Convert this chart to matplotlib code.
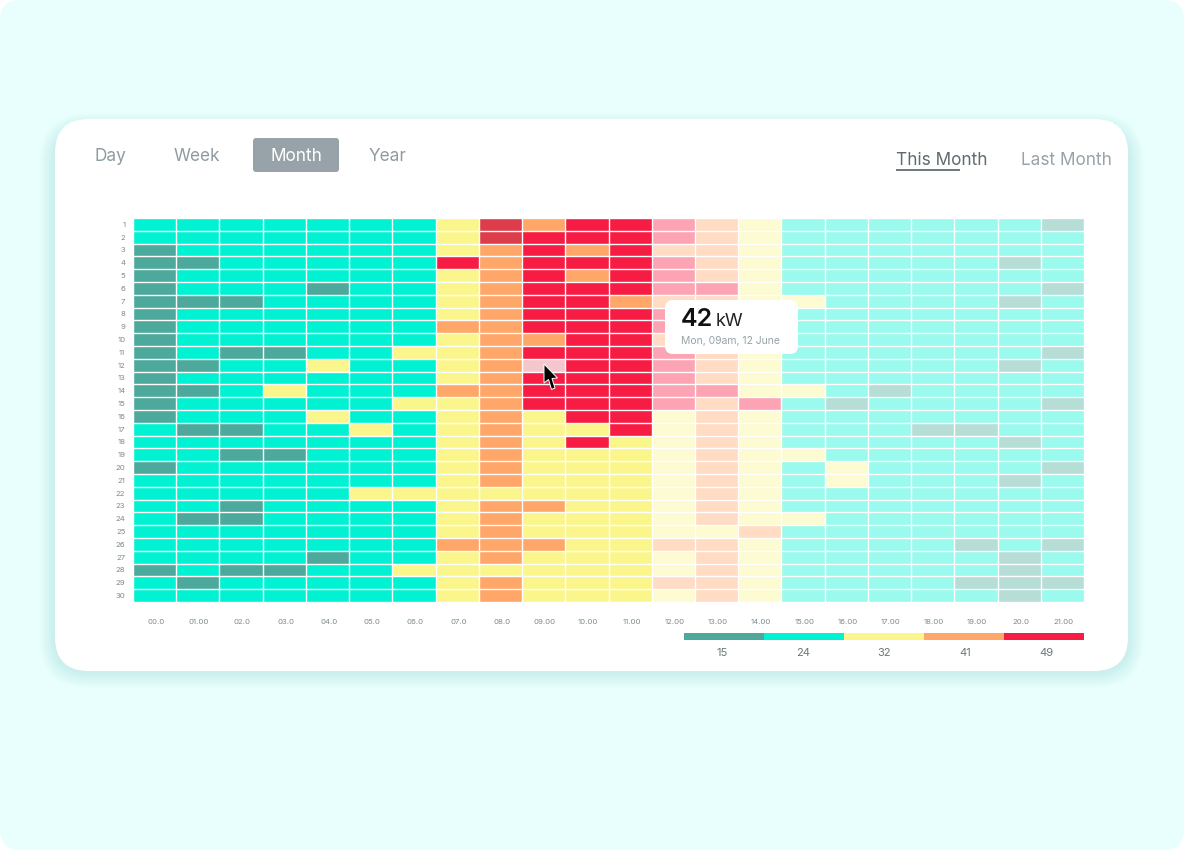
import matplotlib
matplotlib.use("Agg")
import matplotlib.pyplot as plt
import numpy as np
from matplotlib.colors import ListedColormap, BoundaryNorm, to_rgb
from matplotlib.patches import FancyBboxPatch, Polygon, Rectangle

plt.rcParams['font.family'] = ['Inter', 'DejaVu Sans']

# ---------- data ----------
hours = ['00.0','01.00','02.0','03.0','04.0','05.0','06.0','07.0','08.0','09.00','10.00',
         '11.00','12.00','13.00','14.00','15.00','16.00','17.00','18.00','19.00','20.0','21.00']
days = [str(d) for d in range(1, 31)]
legend_values = [15, 24, 32, 41, 49]
legend_colors = ['#4CA99B', '#00F2D2', '#FBF68C', '#FFA768', '#F71C43']
kw = [
 [24,24,24,24,24,24,24,32,49,41,49,49,49,41,32,24,24,24,24,24,24,15],
 [24,24,24,24,24,24,24,32,49,49,49,49,49,41,32,24,24,24,24,24,24,24],
 [15,24,24,24,24,24,24,32,41,49,41,49,41,41,32,24,24,24,24,24,24,24],
 [15,15,24,24,24,24,24,49,41,49,49,49,49,41,32,24,24,24,24,24,15,24],
 [15,24,24,24,24,24,24,32,41,49,41,49,49,41,32,24,24,24,24,24,24,24],
 [15,24,24,24,15,24,24,32,41,49,49,49,49,49,32,24,24,24,24,24,24,15],
 [15,15,15,24,24,24,24,32,41,49,49,41,41,41,32,32,24,24,24,24,15,24],
 [15,24,24,24,24,24,24,32,41,49,49,49,49,41,32,24,24,24,24,24,24,24],
 [15,24,24,24,24,24,24,41,41,49,49,49,49,41,32,24,24,24,24,24,24,24],
 [15,24,24,24,24,24,24,32,41,41,49,49,41,41,32,24,24,24,24,24,24,24],
 [15,24,15,15,24,24,32,32,41,49,49,49,49,41,32,24,24,24,24,24,24,15],
 [15,15,24,24,32,24,24,32,41,49,49,49,49,41,32,24,24,24,24,24,15,24],
 [15,24,24,24,24,24,24,32,41,49,49,49,49,41,32,24,24,24,24,24,24,24],
 [15,15,24,32,24,24,24,41,41,49,49,49,49,49,32,32,24,15,24,24,24,24],
 [15,24,24,24,24,24,32,32,41,49,49,49,49,41,49,24,15,24,24,24,24,15],
 [15,24,24,24,32,24,24,32,41,32,49,49,32,41,32,24,24,24,24,24,24,24],
 [24,15,15,24,24,32,24,32,41,32,32,49,32,41,32,24,24,24,15,15,24,24],
 [24,24,24,24,24,24,24,32,41,32,49,32,32,41,32,24,24,24,24,24,15,24],
 [24,24,15,15,24,24,24,32,41,32,32,32,32,41,32,32,24,24,24,24,24,24],
 [15,24,24,24,24,24,24,32,41,32,32,32,32,41,32,24,32,24,24,24,24,15],
 [24,24,24,24,24,24,24,32,41,32,32,32,32,41,32,24,32,24,24,24,15,24],
 [24,24,24,24,24,32,32,32,32,32,32,32,32,41,32,24,24,24,24,24,24,24],
 [24,24,15,24,24,24,24,32,41,41,32,32,32,41,32,24,24,24,24,24,24,24],
 [24,15,15,24,24,24,24,32,41,32,32,32,32,41,32,32,24,24,24,24,24,24],
 [24,24,24,24,24,24,24,32,41,32,32,32,32,32,41,24,24,24,24,24,24,24],
 [24,24,24,24,24,24,24,41,41,41,32,32,41,41,32,24,24,24,24,15,24,15],
 [24,24,24,24,15,24,24,32,41,32,32,32,32,41,32,24,24,24,24,24,15,24],
 [15,24,15,15,24,24,32,32,32,32,32,32,32,41,32,24,24,24,24,24,15,24],
 [24,15,24,24,24,24,24,32,41,32,32,32,41,41,32,24,24,24,24,15,15,15],
 [24,24,24,24,24,24,24,32,41,32,32,32,32,41,32,24,24,24,24,24,15,24],
]
faded_from_hour = 12           # hours from this column onward are drawn faded
fade = 0.4
dark_cells = [(0, 8), (1, 8)]  # (day index, hour index)
hover_cell = (11, 9)
tooltip_value = '42'
tooltip_unit = 'kW'
tooltip_note = 'Mon, 09am, 12 June'
tabs = ['Day', 'Week', 'Month', 'Year']

# ---------- figure ----------
W, H = 1184, 850
fig = plt.figure(figsize=(W / 100, H / 100), dpi=100, facecolor='white')

def px_axes(x0, y0, x1, y1, z):
    return fig.add_axes([x0 / W, 1 - y1 / H, (x1 - x0) / W, (y1 - y0) / H], zorder=z)

bg = px_axes(0, 0, W, H, 0)
bg.set_xlim(0, W); bg.set_ylim(H, 0); bg.axis('off')

def rbox(a, x0, y0, x1, y1, r, **kw_):
    p = FancyBboxPatch((x0 + r, y0 + r), x1 - x0 - 2 * r, y1 - y0 - 2 * r,
                       boxstyle=f'round,pad={r},rounding_size={r}', **kw_)
    a.add_patch(p)
    return p

rbox(bg, 0, 0, W, H, 20, fc='#E8FFFD', ec='none')
for i in range(16, 0, -1):
    rbox(bg, 55 - i, 119 - i + 10, 1128 + i, 671 + i + 1, 34 + i, fc='#4F8F8A', ec='none', alpha=0.007)
rbox(bg, 55, 119, 1128, 671, 34, fc='white', ec='none')

# tabs
tab_x = [110, 197, 296, 388]
rbox(bg, 253, 138, 339, 172, 3, fc='#97A3A8', ec='none')
for name, x in zip(tabs, tab_x):
    bg.text(x, 156, name, ha='center', va='center', fontsize=12.4,
            color='white' if name == 'Month' else '#8E9CA1')
bg.text(942, 160, 'This Month', ha='center', va='center', fontsize=12.4, color='#5E6B70')
bg.text(1066, 160, 'Last Month', ha='center', va='center', fontsize=12.4, color='#97A3A8')
bg.add_patch(Rectangle((896, 169), 64, 2, fc='#6E7B80', ec='none'))

# heatmap
levels = [10, 20, 28, 36, 45, 55]
cmap = ListedColormap(legend_colors)
faded_cmap = ListedColormap([tuple(fade * c + (1 - fade) for c in to_rgb(col)) for col in legend_colors])
norm = BoundaryNorm(levels, cmap.N)
Z = np.array(kw, dtype=float)
ax = px_axes(133, 218, 1084, 602, 1)
xe = np.arange(len(hours) + 1)
ye = np.arange(len(days) + 1)
f = faded_from_hour
ax.pcolormesh(xe[:f + 1], ye, Z[:, :f], cmap=cmap, norm=norm)
ax.pcolormesh(xe[f:], ye, Z[:, f:], cmap=faded_cmap, norm=norm)
for d, h in dark_cells:
    ax.add_patch(Rectangle((h, d), 1, 1, fc='#DD3D4B', ec='none'))
d, h = hover_cell
ax.add_patch(Rectangle((h, d), 1, 1, fc='#F5C7CD', ec='none'))
ax.hlines(ye, 0, len(hours), color='white', linewidth=1.0, zorder=5)
ax.vlines(xe, 0, len(days), color='white', linewidth=1.0, zorder=5)
ax.set_xlim(0, len(hours)); ax.set_ylim(len(days), 0)
ax.set_xticks(np.arange(len(hours)) + 0.53, hours)
ax.set_yticks(np.arange(len(days)) + 0.5, days)
ax.tick_params(length=0, labelsize=5.6, labelcolor='#7D8A8E')
ax.tick_params(axis='x', pad=12)
ax.tick_params(axis='y', pad=5.5)
for s in ax.spines.values():
    s.set_visible(False)

# legend bar
lg = px_axes(684, 633, 1084, 640, 1)
lg.pcolormesh(np.arange(len(legend_values) + 1), [0, 1], np.array([legend_values]), cmap=cmap, norm=norm)
lg.set_xlim(0, len(legend_values)); lg.set_ylim(0, 1)
lg.set_yticks([])
lg.set_xticks(np.arange(len(legend_values)) * 1.0125 + 0.475, [str(v) for v in legend_values])
lg.tick_params(length=0, labelsize=8, labelcolor='#6A777B', pad=6)
for s in lg.spines.values():
    s.set_visible(False)

# tooltip and cursor
top = px_axes(0, 0, W, H, 3)
top.set_xlim(0, W); top.set_ylim(H, 0); top.axis('off'); top.patch.set_alpha(0)
rbox(top, 665, 300, 798, 354, 8, fc='white', ec='none')
top.text(681, 319, tooltip_value, ha='left', va='center', fontsize=18, fontweight='semibold', color='#111111')
top.text(716, 321, tooltip_unit, ha='left', va='center', fontsize=13, color='#222222')
top.text(681, 340.5, tooltip_note, ha='left', va='center', fontsize=7.5, color='#97A3A8')
cursor = [(544, 364), (544, 383), (548.5, 379.5), (551.5, 389.5), (555, 388), (552, 378.5), (557.5, 378)]
top.add_patch(Polygon(cursor, closed=True, fc='black', ec='white', lw=0.7))

fig.savefig('out.png', dpi=100, facecolor='white')
